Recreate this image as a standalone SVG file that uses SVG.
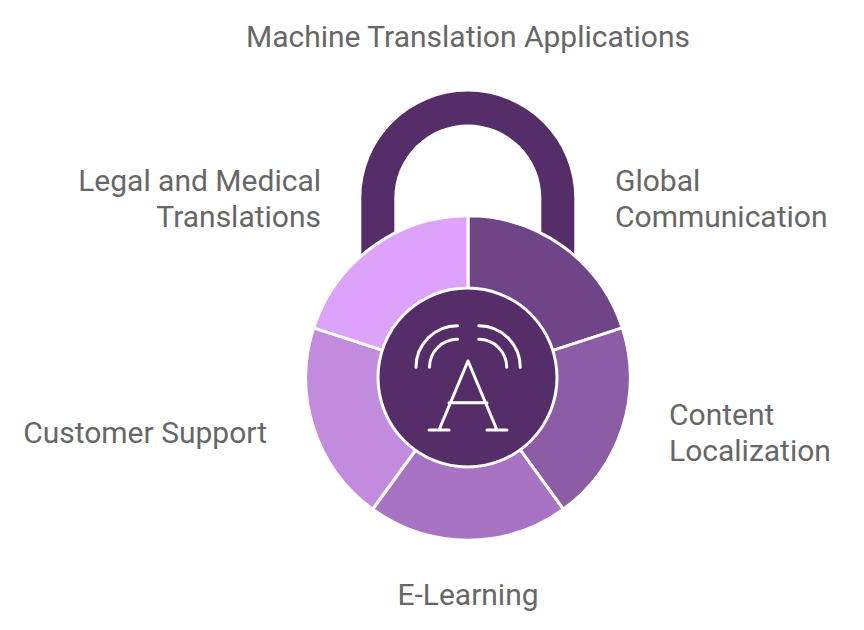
<svg xmlns="http://www.w3.org/2000/svg" width="864" height="630" viewBox="0 0 864 630">
<style>
.t{font-family:Roboto,"Liberation Sans",sans-serif;font-size:30px;fill:#666666;opacity:.99}
.w{stroke:#fff;stroke-width:3;stroke-linejoin:miter}
.i{fill:none;stroke:#fff;stroke-width:3;stroke-linecap:round;stroke-linejoin:round}
</style>
<rect width="864" height="630" fill="#fff"/>
<g id="shackle"><path d="M361.300 254V198A106.500 106.500 0 0 1 574.300 198V254L541.300 233V198A73.500 73.500 0 0 0 394.300 198V233Z" fill="#552e69"/></g>
<g id="connectors"></g>
<g id="segment-global"><path class="w" d="M468 378V215.800A162.200 162.200 0 0 1 622.300 327.900Z" fill="#704587"/></g>
<g id="segment-content"><path class="w" d="M468 378L622.300 327.900A162.200 162.200 0 0 1 563.300 509.200Z" fill="#8c5ca5"/></g>
<g id="segment-elearning"><path class="w" d="M468 378L563.300 509.200A162.200 162.200 0 0 1 372.700 509.200Z" fill="#a873c2"/></g>
<g id="segment-support"><path class="w" d="M468 378L372.700 509.200A162.200 162.200 0 0 1 313.700 327.900Z" fill="#c28bdd"/></g>
<g id="segment-legal"><path class="w" d="M468 378L313.700 327.900A162.200 162.200 0 0 1 468 215.800Z" fill="#dda3fa"/></g>
<g id="hub"><circle cx="467.500" cy="377.500" r="89.500" fill="#552e69" stroke="#fff" stroke-width="3"/>
<path class="i" d="M439 430L468 361L497 430M449 402.700H487M429 430H449M487 430H507M457.500 325.700A41.500 41.500 0 0 0 416 367.200M457.500 339.300A28 28 0 0 0 429.500 367.200M478.700 325.700A41.500 41.500 0 0 1 520.200 367.200M478.700 339.300A28 28 0 0 1 506.700 367.200"/></g>
<g id="title"><text class="t" x="468" y="47" text-anchor="middle">Machine Translation Applications</text></g>
<g id="label-global"><text class="t" x="615" y="191">Global</text><text class="t" x="615" y="227">Communication</text></g>
<g id="label-content"><text class="t" x="669" y="425">Content</text><text class="t" x="669" y="461">Localization</text></g>
<g id="label-elearning"><text class="t" x="468" y="605" text-anchor="middle">E-Learning</text></g>
<g id="label-support"><text class="t" x="267" y="443" text-anchor="end">Customer Support</text></g>
<g id="label-legal"><text class="t" x="321" y="191" text-anchor="end">Legal and Medical</text><text class="t" x="321" y="227" text-anchor="end">Translations</text></g>
</svg>
